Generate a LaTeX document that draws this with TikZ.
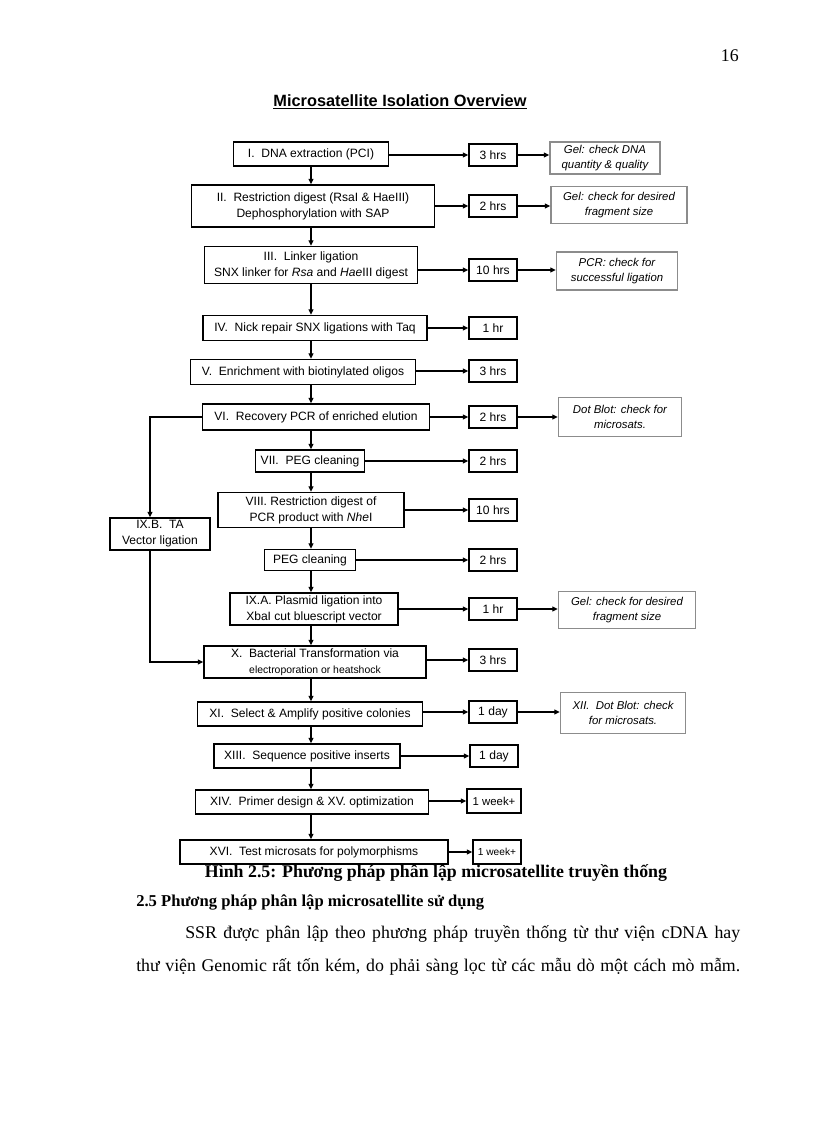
\documentclass[tikz,border=0pt]{standalone}
\usepackage{fontspec}
\setmainfont{Liberation Serif}
\newfontfamily\arialf{Liberation Sans}
\usetikzlibrary{arrows.meta}
\begin{document}
\begin{tikzpicture}[x=0.7292pt,y=-0.7292pt,
  wh/.style 2 args={minimum width=#1*0.7292pt, minimum height=#2*0.7292pt},
  box/.style={draw, line width=1pt, inner sep=1pt, align=center, font=\arialf\fontsize{8.8}{11.6}\selectfont},
  tbox/.style={box, wh={48}{22}},
  cbox/.style={draw=black!45, line width=1pt, inner sep=1pt, align=center, font=\arialf\itshape\fontsize{8.3}{10.4}\selectfont},
  arr/.style={line width=0.8pt, -{Triangle[length=4pt,width=3.6pt]}},
  body/.style={font=\fontsize{13}{15}\selectfont, inner sep=0, anchor=base west}
]
\useasboundingbox (0,0) rectangle (816,1123);
\fill[white] (0,0) rectangle (816,1123);
\coordinate (ax) at (311,0);
\coordinate (bx) at (150,0);

\node[body, anchor=base east] (pg) at (739,62) {16};
\node[font=\arialf\bfseries\fontsize{11.9}{14}\selectfont, inner sep=0] (title) at (400,102) {\underline{Microsatellite Isolation Overview}};

% main column
\node[box, wh={155}{24}] (n1) at (311,154) {I.\ \ DNA extraction (PCI)};
\node[box, wh={243}{42}] (n2) at (313,206) {II.\ \ Restriction digest (RsaI \& HaeIII)\\Dephosphorylation with SAP};
\node[box, wh={213}{37}] (n3) at (311,265) {III.\ \ Linker ligation\\SNX linker for \textit{Rsa} and \textit{Hae}III digest};
\node[box, wh={224}{25}] (n4) at (315,328) {IV.\ \ Nick repair SNX ligations with Taq};
\node[box, wh={225}{25}] (n5) at (303,372) {V.\ \ Enrichment with biotinylated oligos};
\node[box, wh={227}{26}] (n6) at (316,417) {VI.\ \ Recovery PCR of enriched elution};
\node[box, wh={109}{22}] (n7) at (310,461) {VII.\ \ PEG cleaning};
\node[box, wh={186}{35}] (n8) at (311,510) {VIII. Restriction digest of\\PCR product with \textit{Nhe}I};
\node[box, wh={91}{21}] (n9) at (310,560) {PEG cleaning};
\node[box, wh={168}{32}] (n10) at (314,609) {IX.A. Plasmid ligation into\\XbaI cut bluescript vector};
\node[box, wh={222}{32}] (n11) at (315,662) {X.\ \ Bacterial Transformation via\\{\fontsize{7.6}{8.6}\selectfont electroporation or heatshock}};
\node[box, wh={225}{24}] (n12) at (310,714) {XI.\ \ Select \& Amplify positive colonies};
\node[box, wh={186}{24}] (n13) at (307,756) {XIII.\ \ Sequence positive inserts};
\node[box, wh={233}{24}] (n14) at (312,802) {XIV.\ \ Primer design \& XV. optimization};
\node[box, wh={268}{24}] (n15) at (314,852) {XVI.\ \ Test microsats for polymorphisms};
\node[box, wh={100}{32}] (nb) at (160,534) {IX.B.\ \ TA\\Vector ligation};

% time boxes
\node[tbox] (t1) at (493,155) {3 hrs};
\node[tbox] (t2) at (493,206) {2 hrs};
\node[tbox] (t3) at (493,270) {10 hrs};
\node[tbox] (t4) at (493,328) {1 hr};
\node[tbox] (t5) at (493,371) {3 hrs};
\node[tbox] (t6) at (493,417) {2 hrs};
\node[tbox] (t7) at (493,461) {2 hrs};
\node[tbox] (t8) at (493,510) {10 hrs};
\node[tbox] (t9) at (493,560) {2 hrs};
\node[tbox] (t10) at (493,609) {1 hr};
\node[tbox] (t11) at (493,660) {3 hrs};
\node[tbox] (t12) at (493,712) {1 day};
\node[tbox] (t13) at (494,756) {1 day};
\node[tbox, wh={54}{24}, font=\arialf\fontsize{8.3}{10}\selectfont] (t14) at (494,801) {1 week+};
\node[tbox, wh={48}{24}, font=\arialf\fontsize{7.4}{9}\selectfont] (t15) at (497,852) {1 week+};

% check boxes
\node[cbox, wh={110}{32}] (c1) at (605,158) {Gel: check DNA\\quantity \& quality};
\node[cbox, wh={136}{37}] (c2) at (619,205) {Gel: check for desired\\fragment size};
\node[cbox, wh={121}{38}] (c3) at (617,271) {PCR: check for\\successful ligation};
\node[cbox, wh={123}{39}] (c6) at (620,417) {Dot Blot: check for\\microsats.};
\node[cbox, wh={137}{37}] (c10) at (627,610) {Gel: check for desired\\fragment size};
\node[cbox, wh={125}{41}] (c12) at (623,713) {XII.\ \ Dot Blot: check\\for microsats.};

% vertical arrows
\foreach \a/\b in {n1/n2,n2/n3,n3/n4,n4/n5,n5/n6,n6/n7,n7/n8,n8/n9,n9/n10,n10/n11,n11/n12,n12/n13,n13/n14,n14/n15}
  \draw[arr] (\a.south -| ax) -- (\b.north -| ax);

% to time boxes
\foreach \i in {1,...,15}
  \draw[arr] (n\i.east |- t\i.west) -- (t\i.west);

% to check boxes
\foreach \i in {1,2,3,6,10,12}
  \draw[arr] (t\i.east) -- (t\i.east -| c\i.west);

% branch IX.B
\draw[arr] (n6.west) -| (nb.north -| bx);
\draw[arr] (nb.south -| bx) |- (n11.west);

% text
\node[body, anchor=base, font=\bfseries\fontsize{13}{15}\selectfont] (cap) at (436,877) {Hình 2.5: Phương pháp phân lập microsatellite truyền thống};
\node[body, font=\bfseries\fontsize{12.1}{15}\selectfont] (h25) at (136,906) {2.5 Phương pháp phân lập microsatellite sử dụng};
\node[body] (p1) at (185,938) {\makebox[404.7pt][s]{SSR được phân lập theo phương pháp truyền thống từ thư viện cDNA hay}};
\node[body] (p2) at (136,971) {\makebox[440.4pt][s]{thư viện Genomic rất tốn kém, do phải sàng lọc từ các mẫu dò một cách mò mẫm.}};
\end{tikzpicture}
\end{document}
